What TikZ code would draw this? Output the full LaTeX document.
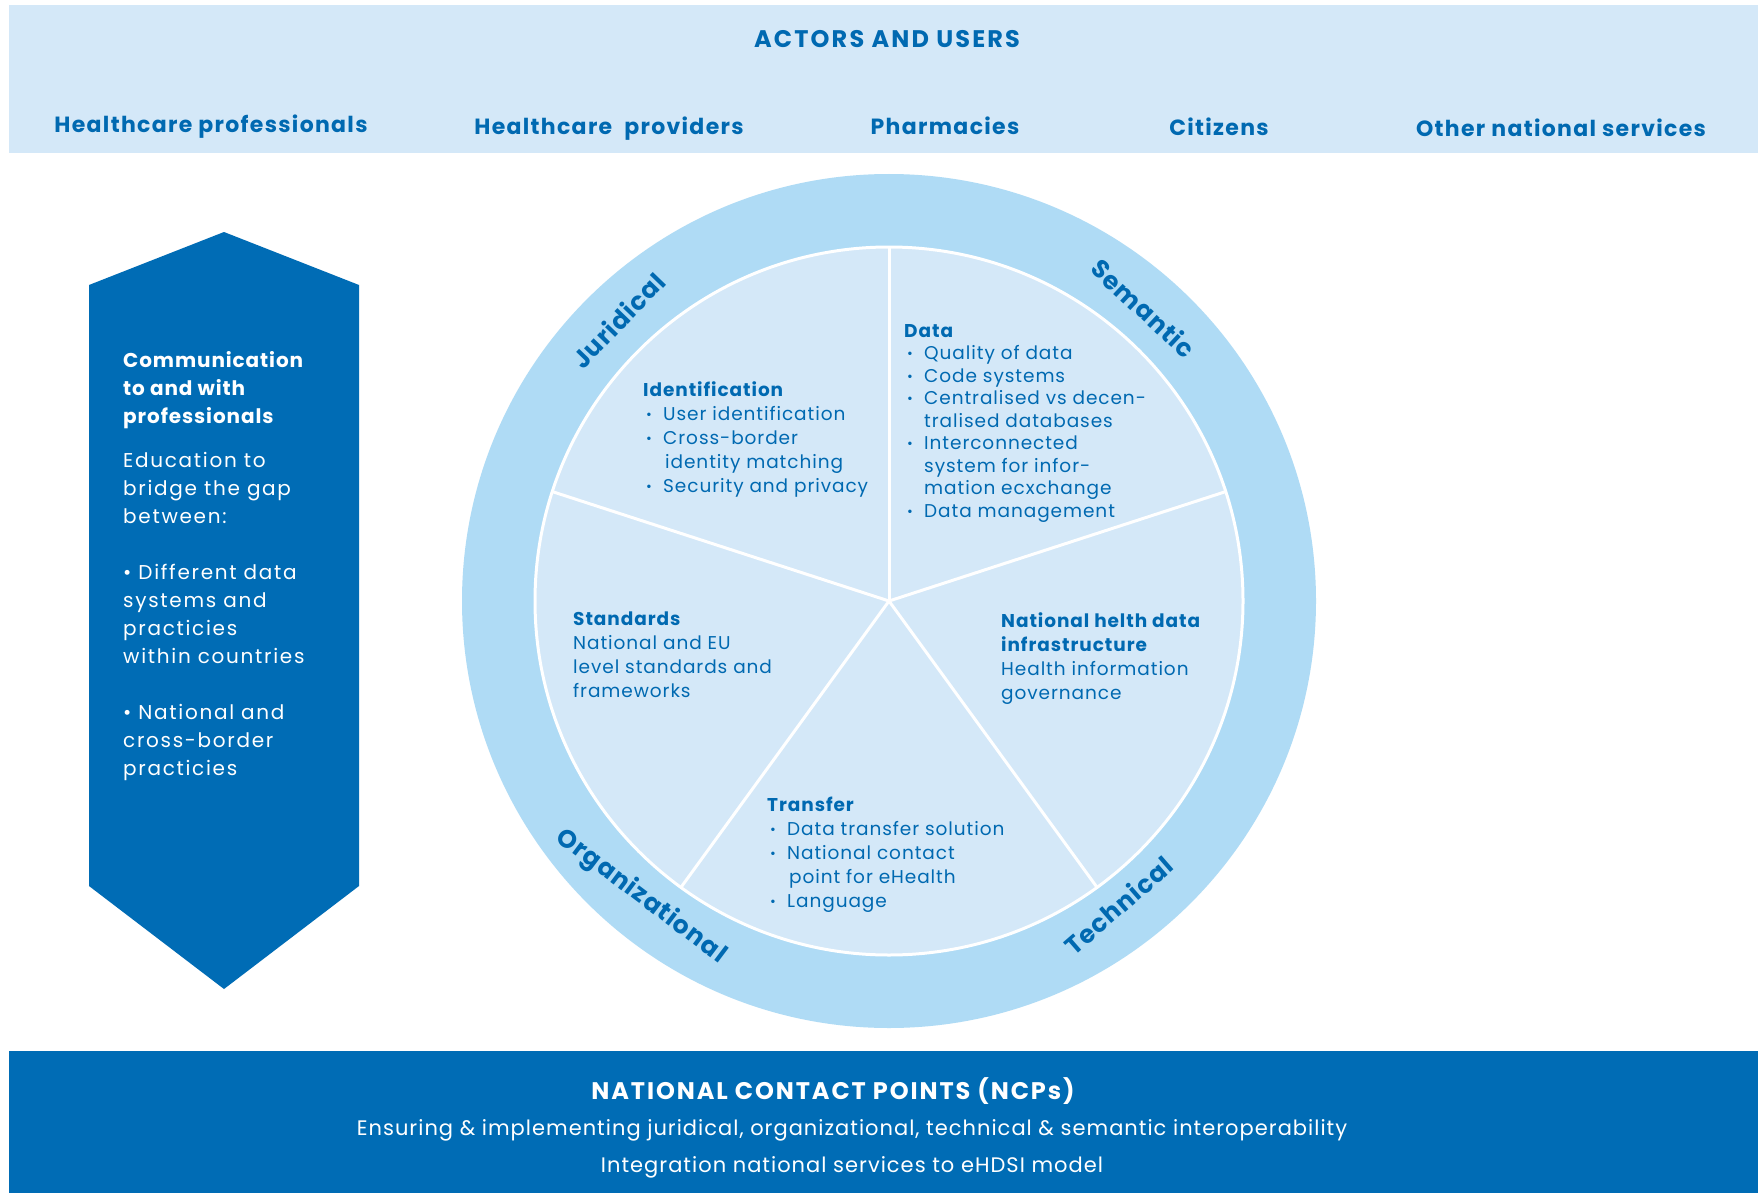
\documentclass[tikz,border=0pt]{standalone}
\usepackage{fontspec}
\setmainfont{Poppins}
\definecolor{bandlight}{HTML}{D4E8F8}
\definecolor{ringblue}{HTML}{AFDBF5}
\definecolor{navy}{HTML}{006CB5}
\definecolor{txtblue}{HTML}{0069B1}
\newcommand\bu{\makebox[20pt][l]{\hspace*{3pt}\raisebox{1pt}{\fontsize{14}{14}\selectfont •}}}
\newcommand\ind{\hspace*{20pt}}
\newcommand\ls[1]{\addfontfeatures{LetterSpace=#1}}
\begin{document}
\begin{tikzpicture}[x=1pt,y=-1pt,
  actor/.style={text=txtblue,font=\fontsize{22}{26}\selectfont\bfseries\ls{6},inner sep=0},
  hdr/.style={text=txtblue,font=\fontsize{24}{28}\selectfont\bfseries\ls{9},inner sep=0},
  hex/.style={text=white,font=\fontsize{20}{28}\selectfont\ls{8.5},align=left,anchor=north west,inner sep=0},
  sect/.style={text=txtblue,font=\fontsize{18.5}{24}\selectfont\ls{5},align=left,anchor=north west,inner sep=0},
  ringlbl/.style={text=txtblue,font=\fontsize{25}{29}\selectfont\bfseries\ls{4},inner sep=0},
  ncp/.style={text=white,font=\fontsize{21}{25}\selectfont\ls{4.8},inner sep=0},
  spoke/.style={white,line width=3pt}]
\useasboundingbox (0,0) rectangle (1758,1193);
\fill[white] (0,0) rectangle (1758,1193);
% top band
\fill[bandlight] (9,5) rectangle (1758,153);
\node[hdr] (actors) at (887,39) {ACTORS AND USERS};
\node[actor] (hcprof) at (211,127) {Healthcare professionals};
\node[actor] (hcprov) at (609,129) {Healthcare\ \ providers};
\node[actor] (pharm) at (945,126) {Pharmacies};
\node[actor] (citiz) at (1219,127) {Citizens};
\node[actor] (other) at (1561,128) {Other national services};
% hexagon
\fill[navy] (224,232) -- (359,285) -- (359,886) -- (224,989) -- (89,886) -- (89,285) -- cycle;
\node[hex,font=\fontsize{20}{28}\selectfont\bfseries\ls{4.5}] (comm) at (123,351) {Communication\\to and with\\professionals};
\node[hex] (edu) at (123,452) {Education to\\bridge the gap\\between:\\[28pt]• Different data\\systems and\\practicies\\within countries\\[28pt]• National and\\cross-border\\practicies};
% circle
\coordinate (c) at (889,601);
\fill[ringblue] (c) circle (427);
\filldraw[fill=bandlight,draw=white,line width=3pt] (c) circle (354);
\foreach \a in {-90,-18,54,126,198}
  \draw[spoke] (c) -- ++(\a:354);
% ring labels
\node[ringlbl,rotate=46] (jur) at ([shift={(-134:390)}]c) {Juridical};
\node[ringlbl,rotate=-43] (sem) at ([shift={(-49:388)}]c) {Semantic};
\node[ringlbl,rotate=-37] (org) at ([shift={(-230:386)}]c) {Organizational};
\node[ringlbl,rotate=41] (tech) at ([shift={(53:381)}]c) {Technical};
% sectors
\node[sect] (ident) at (643,381) {\textbf{Identification}\\\bu User identification\\\bu Cross-border\\\ind\hspace*{2pt}identity matching\\\bu Security and privacy};
\node[sect,font=\fontsize{18.5}{22.5}\selectfont\ls{5}] (data) at (904,324) {\textbf{Data}\\\bu Quality of data\\\bu Code systems\\\bu Centralised vs decen-\\\ind tralised databases\\\bu Interconnected\\\ind system for infor-\\\ind mation ecxchange\\\bu Data management};
\node[sect] (std) at (573,612) {\textbf{Standards}\\National and EU\\level standards and\\frameworks};
\node[sect] (nat) at (1001,612) {\textbf{National helth data}\\\textbf{infrastructure}\\Health information\\governance};
\node[sect] (trans) at (767,797) {\textbf{Transfer}\\\bu Data transfer solution\\\bu National contact\\\ind\hspace*{2pt}point for eHealth\\\bu Language};
% bottom band
\fill[navy] (9,1051) rectangle (1758,1193);
\node[ncp,font=\fontsize{24}{28}\selectfont\bfseries\ls{8}] (ncpt) at (833,1091) {NATIONAL CONTACT POINTS (NCPs)};
\node[ncp] (ens) at (852,1130) {Ensuring \& implementing juridical, organizational, technical \& semantic interoperability};
\node[ncp] (integ) at (852,1167) {Integration national services to eHDSI model};
\end{tikzpicture}
\end{document}
